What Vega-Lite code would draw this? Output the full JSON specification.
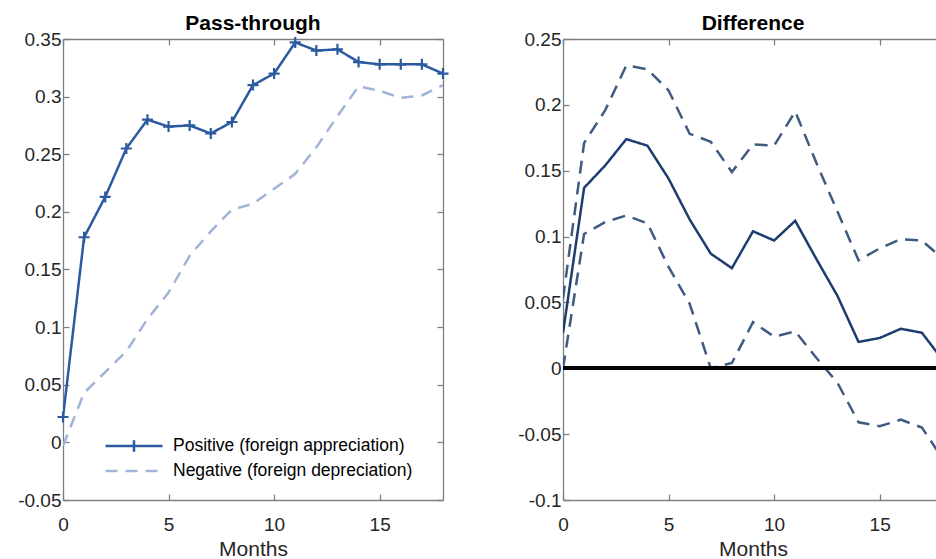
{
  "$schema": "https://vega.github.io/schema/vega-lite/v6.json",
  "padding": {"left": 11, "top": 13, "right": 0, "bottom": 0},
  "spacing": 58,
  "background": "white",
  "resolve": {"scale": {"color": "independent", "strokeDash": "independent"}, "legend": {"color": "independent", "strokeDash": "independent"}},
  "config": {
    "font": "Liberation Sans",
    "view": {"stroke": null},
    "axis": {
      "grid": false,
      "domainColor": "#7f7f7f",
      "domainWidth": 1.3,
      "tickColor": "#7f7f7f",
      "tickWidth": 1.3,
      "tickSize": -6,
      "labelColor": "#262626",
      "labelFontSize": 19,
      "labelPadding": 8,
      "labelFont": "Liberation Sans",
      "titleFont": "Liberation Sans",
      "titleFontSize": 21,
      "titleFontWeight": "normal",
      "titleColor": "#262626"
    },
    "axisX": {"labelPadding": 21},
    "title": {"fontSize": 21, "fontWeight": "bold", "color": "#000000", "offset": -4, "font": "Liberation Sans"}
  },
  "datasets": {
    "pass": [
      {"month": 0, "value": 0.022, "series": "Positive (foreign appreciation)"},
      {"month": 1, "value": 0.178, "series": "Positive (foreign appreciation)"},
      {"month": 2, "value": 0.213, "series": "Positive (foreign appreciation)"},
      {"month": 3, "value": 0.255, "series": "Positive (foreign appreciation)"},
      {"month": 4, "value": 0.280, "series": "Positive (foreign appreciation)"},
      {"month": 5, "value": 0.274, "series": "Positive (foreign appreciation)"},
      {"month": 6, "value": 0.275, "series": "Positive (foreign appreciation)"},
      {"month": 7, "value": 0.268, "series": "Positive (foreign appreciation)"},
      {"month": 8, "value": 0.278, "series": "Positive (foreign appreciation)"},
      {"month": 9, "value": 0.310, "series": "Positive (foreign appreciation)"},
      {"month": 10, "value": 0.320, "series": "Positive (foreign appreciation)"},
      {"month": 11, "value": 0.347, "series": "Positive (foreign appreciation)"},
      {"month": 12, "value": 0.340, "series": "Positive (foreign appreciation)"},
      {"month": 13, "value": 0.341, "series": "Positive (foreign appreciation)"},
      {"month": 14, "value": 0.330, "series": "Positive (foreign appreciation)"},
      {"month": 15, "value": 0.328, "series": "Positive (foreign appreciation)"},
      {"month": 16, "value": 0.328, "series": "Positive (foreign appreciation)"},
      {"month": 17, "value": 0.328, "series": "Positive (foreign appreciation)"},
      {"month": 18, "value": 0.320, "series": "Positive (foreign appreciation)"},
      {"month": 0, "value": -0.003, "series": "Negative (foreign depreciation)"},
      {"month": 1, "value": 0.043, "series": "Negative (foreign depreciation)"},
      {"month": 2, "value": 0.061, "series": "Negative (foreign depreciation)"},
      {"month": 3, "value": 0.079, "series": "Negative (foreign depreciation)"},
      {"month": 4, "value": 0.107, "series": "Negative (foreign depreciation)"},
      {"month": 5, "value": 0.130, "series": "Negative (foreign depreciation)"},
      {"month": 6, "value": 0.162, "series": "Negative (foreign depreciation)"},
      {"month": 7, "value": 0.183, "series": "Negative (foreign depreciation)"},
      {"month": 8, "value": 0.202, "series": "Negative (foreign depreciation)"},
      {"month": 9, "value": 0.207, "series": "Negative (foreign depreciation)"},
      {"month": 10, "value": 0.220, "series": "Negative (foreign depreciation)"},
      {"month": 11, "value": 0.233, "series": "Negative (foreign depreciation)"},
      {"month": 12, "value": 0.256, "series": "Negative (foreign depreciation)"},
      {"month": 13, "value": 0.283, "series": "Negative (foreign depreciation)"},
      {"month": 14, "value": 0.309, "series": "Negative (foreign depreciation)"},
      {"month": 15, "value": 0.305, "series": "Negative (foreign depreciation)"},
      {"month": 16, "value": 0.299, "series": "Negative (foreign depreciation)"},
      {"month": 17, "value": 0.301, "series": "Negative (foreign depreciation)"},
      {"month": 18, "value": 0.310, "series": "Negative (foreign depreciation)"}
    ],
    "diff": [
      {"month": 0, "value": 0.027, "series": "Difference"},
      {"month": 1, "value": 0.137, "series": "Difference"},
      {"month": 2, "value": 0.154, "series": "Difference"},
      {"month": 3, "value": 0.174, "series": "Difference"},
      {"month": 4, "value": 0.169, "series": "Difference"},
      {"month": 5, "value": 0.144, "series": "Difference"},
      {"month": 6, "value": 0.113, "series": "Difference"},
      {"month": 7, "value": 0.087, "series": "Difference"},
      {"month": 8, "value": 0.076, "series": "Difference"},
      {"month": 9, "value": 0.104, "series": "Difference"},
      {"month": 10, "value": 0.097, "series": "Difference"},
      {"month": 11, "value": 0.112, "series": "Difference"},
      {"month": 12, "value": 0.083, "series": "Difference"},
      {"month": 13, "value": 0.055, "series": "Difference"},
      {"month": 14, "value": 0.020, "series": "Difference"},
      {"month": 15, "value": 0.023, "series": "Difference"},
      {"month": 16, "value": 0.030, "series": "Difference"},
      {"month": 17, "value": 0.027, "series": "Difference"},
      {"month": 18, "value": 0.006, "series": "Difference"},
      {"month": 0, "value": 0.053, "series": "Upper"},
      {"month": 1, "value": 0.171, "series": "Upper"},
      {"month": 2, "value": 0.196, "series": "Upper"},
      {"month": 3, "value": 0.230, "series": "Upper"},
      {"month": 4, "value": 0.227, "series": "Upper"},
      {"month": 5, "value": 0.211, "series": "Upper"},
      {"month": 6, "value": 0.178, "series": "Upper"},
      {"month": 7, "value": 0.172, "series": "Upper"},
      {"month": 8, "value": 0.149, "series": "Upper"},
      {"month": 9, "value": 0.170, "series": "Upper"},
      {"month": 10, "value": 0.169, "series": "Upper"},
      {"month": 11, "value": 0.195, "series": "Upper"},
      {"month": 12, "value": 0.156, "series": "Upper"},
      {"month": 13, "value": 0.119, "series": "Upper"},
      {"month": 14, "value": 0.082, "series": "Upper"},
      {"month": 15, "value": 0.091, "series": "Upper"},
      {"month": 16, "value": 0.098, "series": "Upper"},
      {"month": 17, "value": 0.097, "series": "Upper"},
      {"month": 18, "value": 0.083, "series": "Upper"},
      {"month": 0, "value": 0.000, "series": "Lower"},
      {"month": 1, "value": 0.102, "series": "Lower"},
      {"month": 2, "value": 0.111, "series": "Lower"},
      {"month": 3, "value": 0.116, "series": "Lower"},
      {"month": 4, "value": 0.110, "series": "Lower"},
      {"month": 5, "value": 0.077, "series": "Lower"},
      {"month": 6, "value": 0.049, "series": "Lower"},
      {"month": 7, "value": 0.000, "series": "Lower"},
      {"month": 8, "value": 0.004, "series": "Lower"},
      {"month": 9, "value": 0.035, "series": "Lower"},
      {"month": 10, "value": 0.024, "series": "Lower"},
      {"month": 11, "value": 0.028, "series": "Lower"},
      {"month": 12, "value": 0.008, "series": "Lower"},
      {"month": 13, "value": -0.011, "series": "Lower"},
      {"month": 14, "value": -0.041, "series": "Lower"},
      {"month": 15, "value": -0.044, "series": "Lower"},
      {"month": 16, "value": -0.039, "series": "Lower"},
      {"month": 17, "value": -0.045, "series": "Lower"},
      {"month": 18, "value": -0.069, "series": "Lower"}
    ]
  },
  "hconcat": [
    {
      "title": "Pass-through",
      "width": 380,
      "height": 461,
      "data": {"name": "pass"},
      "resolve": {"axis": {"x": "independent", "y": "independent"}},
      "layer": [
        {
          "mark": {"type": "line", "strokeWidth": 2.5, "clip": true},
          "encoding": {
            "x": {"field": "month", "type": "quantitative", "scale": {"domain": [0, 18], "nice": false}, "axis": {"orient": "bottom", "values": [0, 5, 10, 15], "title": "Months", "labelFlush": false, "titlePadding": 4}},
            "y": {"field": "value", "type": "quantitative", "scale": {"domain": [-0.05, 0.35], "nice": false, "zero": false}, "axis": {"orient": "left", "values": [-0.05, 0, 0.05, 0.1, 0.15, 0.2, 0.25, 0.3, 0.35], "format": ".2~f", "labelExpr": "replace(datum.label, '−', '-')", "title": null, "labelFlush": false, "minExtent": 52, "maxExtent": 52}},
            "color": {"field": "series", "type": "nominal", "scale": {"domain": ["Positive (foreign appreciation)", "Negative (foreign depreciation)"], "range": ["#2c5aa0", "#a0b5d6"]},
              "legend": {"title": null, "orient": "none", "legendX": 60, "legendY": 396, "symbolType": "M-3,0H3", "symbolSize": 361, "symbolStrokeWidth": 2.5, "labelFontSize": 17.5, "labelColor": "#000000", "labelOffset": 28, "labelLimit": 400, "rowPadding": 3, "padding": 0,
                "encode": {"symbols": {"update": {"shape": {"signal": "datum.value === 'Positive (foreign appreciation)' ? 'M-3,0H3M0,-0.6V0.6' : 'M-3,0H3'"}}}}}},
            "strokeDash": {"field": "series", "type": "nominal", "scale": {"domain": ["Positive (foreign appreciation)", "Negative (foreign depreciation)"], "range": [[1, 0], [12, 8]]},
              "legend": {"title": null, "orient": "none", "legendX": 60, "legendY": 396, "symbolType": "M-3,0H3", "symbolSize": 361, "symbolStrokeWidth": 2.5, "labelFontSize": 17.5, "labelColor": "#000000", "labelOffset": 28, "labelLimit": 400, "rowPadding": 3, "padding": 0,
                "encode": {"symbols": {"update": {"shape": {"signal": "datum.value === 'Positive (foreign appreciation)' ? 'M-3,0H3M0,-0.6V0.6' : 'M-3,0H3'"}}}}}}
          }
        },
        {
          "transform": [{"filter": "datum.series === 'Positive (foreign appreciation)'"}],
          "mark": {"type": "point", "shape": "M-1,0H1M0,-1V1", "size": 121, "strokeWidth": 2.2, "filled": false, "color": "#2c5aa0", "opacity": 1},
          "encoding": {
            "x": {"field": "month", "type": "quantitative", "axis": {"orient": "top", "labels": false, "title": null, "values": [0, 5, 10, 15], "minExtent": 0, "maxExtent": 0}},
            "y": {"field": "value", "type": "quantitative", "axis": {"orient": "right", "labels": false, "title": null, "values": [-0.05, 0, 0.05, 0.1, 0.15, 0.2, 0.25, 0.3, 0.35], "minExtent": 0, "maxExtent": 0}}
          }
        }
      ]
    },
    {
      "title": "Difference",
      "width": 380,
      "height": 461,
      "data": {"name": "diff"},
      "resolve": {"axis": {"x": "independent", "y": "independent"}},
      "layer": [
        {
          "mark": {"type": "line", "strokeWidth": 2.5, "clip": true},
          "encoding": {
            "x": {"field": "month", "type": "quantitative", "scale": {"domain": [0, 18], "nice": false}, "axis": {"orient": "bottom", "values": [0, 5, 10, 15], "title": "Months", "labelFlush": false, "titlePadding": 4}},
            "y": {"field": "value", "type": "quantitative", "scale": {"domain": [-0.1, 0.25], "nice": false, "zero": false}, "axis": {"orient": "left", "values": [-0.1, -0.05, 0, 0.05, 0.1, 0.15, 0.2, 0.25], "format": ".2~f", "labelExpr": "replace(datum.label, '−', '-')", "title": null, "labelFlush": false, "minExtent": 52, "maxExtent": 52}},
            "color": {"field": "series", "type": "nominal", "scale": {"domain": ["Difference", "Upper", "Lower"], "range": ["#1d3c70", "#3f5b80", "#3f5b80"]}, "legend": null},
            "strokeDash": {"field": "series", "type": "nominal", "scale": {"domain": ["Difference", "Upper", "Lower"], "range": [[1, 0], [13, 8], [13, 8]]}, "legend": null}
          }
        },
        {
          "mark": {"type": "rule", "color": "#000000", "strokeWidth": 3},
          "encoding": {
            "x": {"datum": 0, "type": "quantitative", "axis": {"orient": "top", "labels": false, "title": null, "values": [0, 5, 10, 15], "minExtent": 0, "maxExtent": 0}},
            "x2": {"datum": 18},
            "y": {"datum": 0, "type": "quantitative", "axis": {"orient": "right", "labels": false, "title": null, "values": [-0.1, -0.05, 0, 0.05, 0.1, 0.15, 0.2, 0.25], "minExtent": 0, "maxExtent": 0}}
          }
        }
      ]
    }
  ]
}
